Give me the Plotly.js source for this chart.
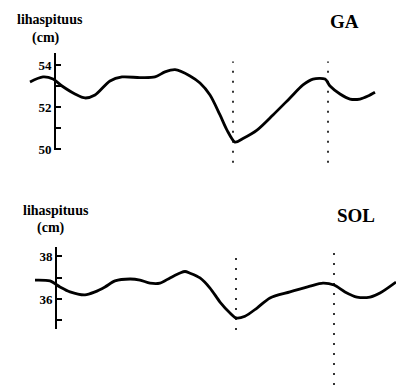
<!DOCTYPE html>
<html>
<head>
<meta charset="utf-8">
<script src="https://cdn.plot.ly/plotly-3.0.1.min.js"></script>
<style>
  html, body { margin: 0; padding: 0; background: #fff; }
  #chart { width: 396px; height: 385px; }
</style>
</head>
<body>
<div id="chart"></div>
<script>
// Time axis (arbitrary units) shared by both muscles
const gaTime = [-25, -12, -2, 7, 20, 30, 40, 55, 67, 85, 100, 110, 120, 135, 145, 155,
                165, 172, 180, 188, 202, 218, 235, 248, 258, 270, 275, 285, 295, 305, 313, 320];
// Gastrocnemius muscle length (cm)
const gaLength = [53.19, 53.43, 53.33, 53.0, 52.62, 52.43, 52.57, 53.24, 53.43, 53.4, 53.43, 53.67,
                  53.78, 53.48, 53.14, 52.57, 51.62, 50.9, 50.33, 50.5, 50.9, 51.62, 52.43, 53.05,
                  53.33, 53.33, 53.0, 52.62, 52.38, 52.38, 52.52, 52.7];

const solTime = [-20, -5, 5, 15, 30, 40, 50, 60, 75, 85, 95, 105, 115, 125, 130, 135, 145, 155,
                 165, 175, 181, 190, 202, 215, 235, 255, 268, 279, 290, 302, 315, 325, 341];
// Soleus muscle length (cm)
const solLength = [36.88, 36.84, 36.56, 36.33, 36.19, 36.33, 36.56, 36.84, 36.93, 36.88, 36.74,
                   36.74, 36.98, 37.21, 37.28, 37.2, 36.98, 36.51, 35.86, 35.35, 35.12, 35.2,
                   35.58, 36.05, 36.33, 36.6, 36.74, 36.65, 36.33, 36.09, 36.09, 36.28, 36.79];

// Event markers (dotted verticals)
const gaEvents = [178, 273];
const solEvents = [181, 279];

// Tick labels
const gaTicks = [50, 51, 52, 53, 54];
const gaTickText = ['<b>50</b>', '', '<b>52</b>', '', '<b>54</b>'];
const solTicks = [35, 36, 37, 38];
const solTickText = ['', '<b>36</b>', '', '<b>38</b>'];

const serif = 'Liberation Serif';

const traces = [
  { x: gaTime, y: gaLength, xaxis: 'x', yaxis: 'y', mode: 'lines',
    line: { color: '#000', width: 2.8, shape: 'spline', smoothing: 0.8 }, hoverinfo: 'skip' },
  { x: solTime, y: solLength, xaxis: 'x', yaxis: 'y2', mode: 'lines',
    line: { color: '#000', width: 2.8, shape: 'spline', smoothing: 0.8 }, hoverinfo: 'skip' }
];

const yStyle = {
  showgrid: false, zeroline: false, showline: true, linecolor: '#000', linewidth: 2,
  ticks: 'inside', ticklen: 5, tickwidth: 2, tickcolor: '#000',
  tickmode: 'array', anchor: 'free',
  tickfont: { family: serif, size: 13, color: '#000' }
};

const shapes = [];
gaEvents.forEach(t => shapes.push({
  type: 'line', xref: 'x', yref: 'paper', x0: t, x1: t, y0: 0.577, y1: 0.84,
  line: { color: '#000', width: 1.6, dash: '2px,8px' }
}));
solEvents.forEach((t, i) => shapes.push({
  type: 'line', xref: 'x', yref: 'paper', x0: t, x1: t,
  y0: i === 0 ? 0.143 : 0.0, y1: 0.345,
  line: { color: '#000', width: 1.6, dash: '2px,8px' }
}));

function label(text, x, y, size) {
  return { text: '<b>' + text + '</b>', xref: 'paper', yref: 'paper', x: x, y: y, showarrow: false,
           xanchor: 'center', yanchor: 'middle',
           font: { family: serif, size: size, color: '#000' } };
}

const layout = {
  width: 396, height: 385,
  margin: { l: 0, r: 0, t: 0, b: 0 },
  paper_bgcolor: '#fff', plot_bgcolor: '#fff',
  showlegend: false,
  xaxis: { range: [-55, 341], visible: false, fixedrange: true },
  yaxis: Object.assign({}, yStyle, {
    domain: [0.6104, 0.8623], range: [49.952, 54.571], position: 0.1389,
    tickvals: gaTicks, ticktext: gaTickText
  }),
  yaxis2: Object.assign({}, yStyle, {
    domain: [0.1455, 0.3584], range: [34.605, 38.419], position: 0.1414,
    tickvals: solTicks, ticktext: solTickText
  }),
  shapes: shapes,
  annotations: [
    label('lihaspituus', 0.126, 0.9506, 14),
    label('(cm)', 0.116, 0.901, 14),
    label('GA', 0.869, 0.943, 19),
    label('lihaspituus', 0.141, 0.452, 14),
    label('(cm)', 0.129, 0.408, 14),
    label('SOL', 0.899, 0.439, 19)
  ]
};

Plotly.newPlot('chart', traces, layout, { displayModeBar: false, staticPlot: true });
</script>
</body>
</html>
